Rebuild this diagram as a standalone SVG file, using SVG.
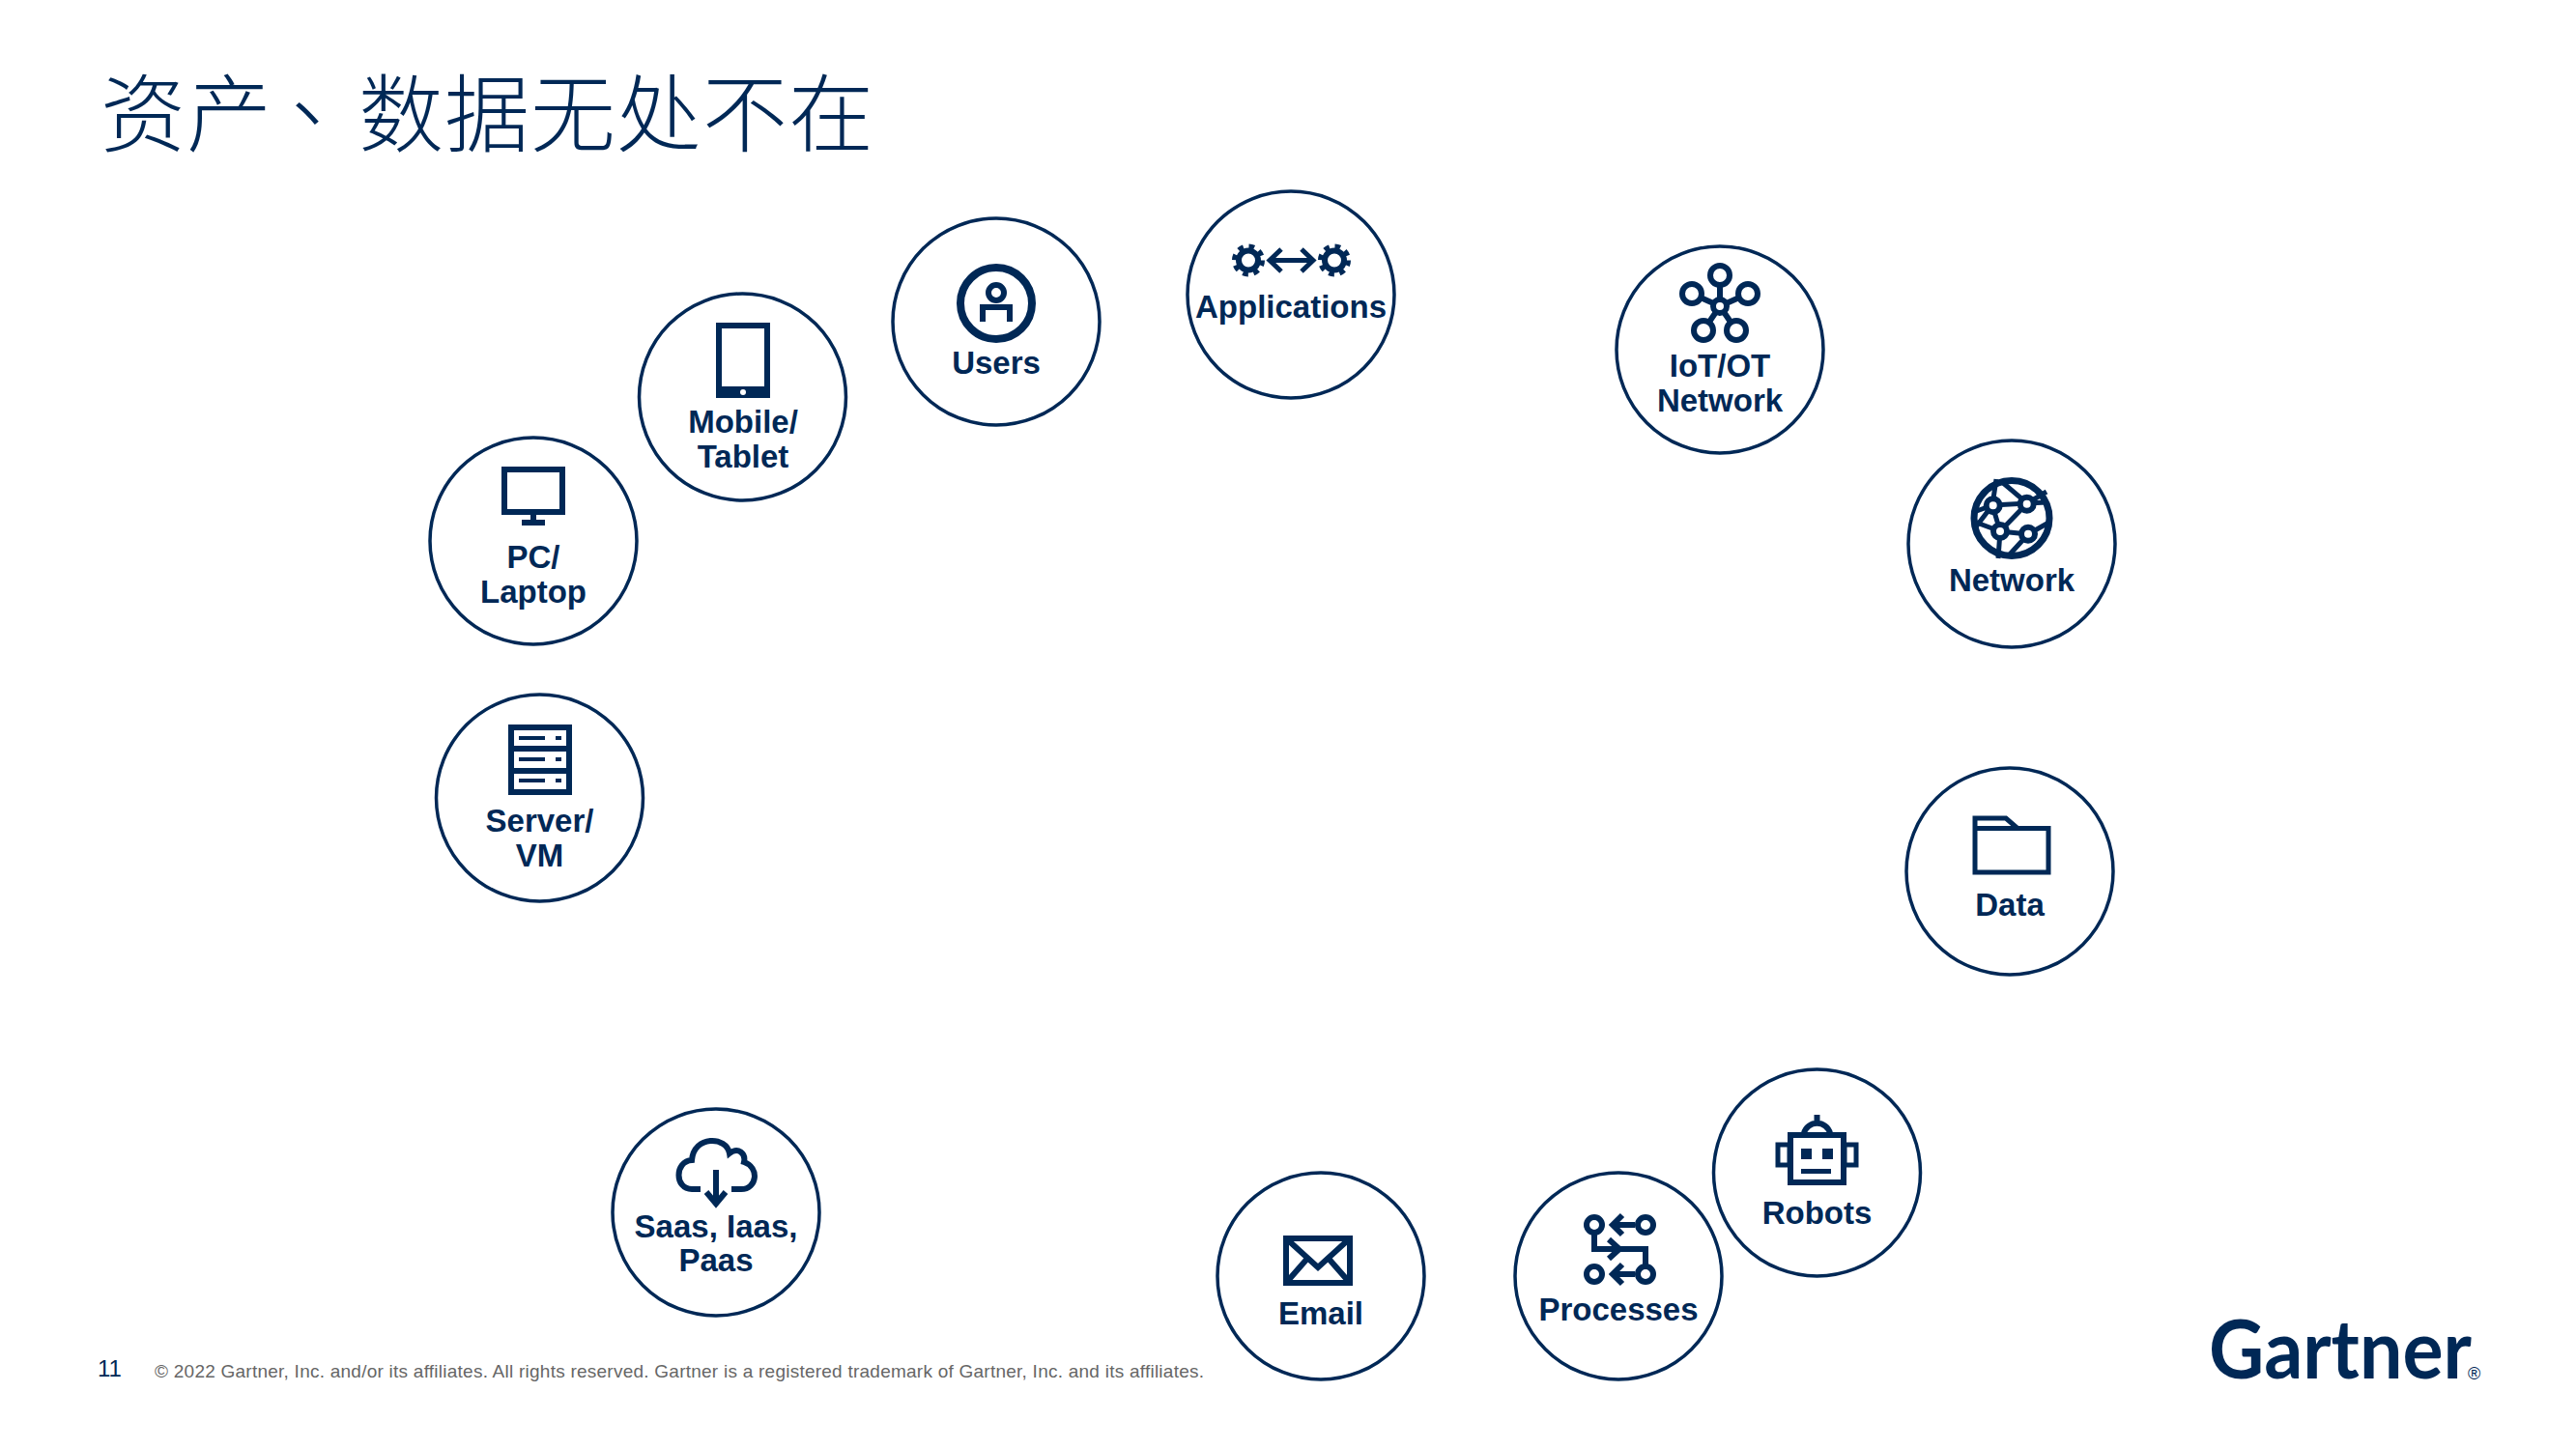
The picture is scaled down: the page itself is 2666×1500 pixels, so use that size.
<svg xmlns="http://www.w3.org/2000/svg" width="2666" height="1500" viewBox="0 0 2666 1500">
<style>
.ring{fill:#fff;stroke:#002856;stroke-width:3.5}
.lb{font-family:"Liberation Sans",Arial,sans-serif;font-weight:700;font-size:33px;fill:#002856;text-anchor:middle}
.s{fill:none;stroke:#002856;stroke-width:6}
.sw{fill:#fff;stroke:#002856;stroke-width:6}
.f{fill:#002856}
.t{font-family:"Noto Sans CJK SC","Noto Sans CJK TC",sans-serif;font-weight:300;font-size:88px;fill:#002856;letter-spacing:1px}
.foot{font-family:"Liberation Sans",Arial,sans-serif;fill:#666;font-size:19px}
</style>
<defs>
<g id="gear"><circle r="10" class="s"/><circle r="14.5" fill="none" stroke="#002856" stroke-width="5" stroke-dasharray="5.7 5.7"/></g>
</defs>
<rect width="2666" height="1500" fill="#fff"/>
<text id="title" class="t" x="104" y="150">资产<tspan font-family="Noto Sans CJK TC" dx="-8">、</tspan><tspan dx="8">数据无处不在</tspan></text>
<g id="connectors"/>
<g id="users"><circle class="ring" cx="1031" cy="333" r="107"/><circle class="s" style="stroke-width:8" cx="1031" cy="314" r="37"/><circle class="s" cx="1031" cy="303" r="8"/><path class="s" d="M1017 333V318H1045V333"/><text class="lb" x="1031" y="387">Users</text></g>
<g id="mobile"><circle class="ring" cx="768.500" cy="411" r="107"/><rect class="s" x="744" y="337" width="50" height="72"/><rect class="f" x="741" y="400" width="56" height="12"/><circle cx="769" cy="406" r="3" fill="#fff"/><text class="lb" x="769" y="448">Mobile/</text><text class="lb" x="769" y="484">Tablet</text></g>
<g id="pc"><circle class="ring" cx="552" cy="560" r="107"/><rect class="s" x="522" y="486" width="60" height="44"/><path class="s" d="M552 530V541M540 541H564"/><text class="lb" x="552" y="588">PC/</text><text class="lb" x="552" y="624">Laptop</text></g>
<g id="server"><circle class="ring" cx="558.500" cy="826" r="107"/><rect class="s" x="529" y="753" width="60" height="67"/><path class="s" d="M529 775H589M529 798H589"/><path class="s" style="stroke-width:4" d="M537 764H564M575 764H581M537 786H564M575 786H581M537 808H564M575 808H581"/><text class="lb" x="558.500" y="861">Server/</text><text class="lb" x="558.500" y="897">VM</text></g>
<g id="applications"><circle class="ring" cx="1336" cy="305" r="107"/><use href="#gear" x="1292" y="269.500"/><use href="#gear" x="1381" y="269.500"/><path class="s" style="stroke-width:5" d="M1316 269.500H1357M1326 258L1314 269.500L1326 281M1347 258L1359 269.500L1347 281"/><text class="lb" x="1336" y="329">Applications</text></g>
<g id="iot"><circle class="ring" cx="1780" cy="362" r="107"/><path class="s" d="M1780 285V317M1751 304L1780 317L1809 304M1763 342L1780 317L1797 342"/><circle class="sw" cx="1780" cy="285" r="10"/><circle class="sw" cx="1751" cy="304" r="10"/><circle class="sw" cx="1809" cy="304" r="10"/><circle class="sw" cx="1763" cy="342" r="10"/><circle class="sw" cx="1797" cy="342" r="10"/><circle class="sw" cx="1780" cy="317" r="7"/><text class="lb" x="1780" y="390">IoT/OT</text><text class="lb" x="1780" y="426">Network</text></g>
<g id="network"><circle class="ring" cx="2082" cy="563" r="107"/><circle class="s" style="stroke-width:7" cx="2082" cy="536.500" r="39"/><path class="s" style="stroke-width:5" d="M2062 523L2098 521L2070 550L2099 553L2070 550L2062 523M2062 523L2066 496M2098 521L2072 499M2098 521L2118 520M2098 521L2118 509M2062 523L2043 548M2043 530L2062 523M2070 550L2043 540M2070 550L2068 578M2099 553L2122 540M2099 553L2078 576"/><circle class="sw" cx="2062.700" cy="523.300" r="7"/><circle class="sw" cx="2097.700" cy="521.700" r="7"/><circle class="sw" cx="2070" cy="550" r="7"/><circle class="sw" cx="2099" cy="552.700" r="7"/><text class="lb" x="2082" y="611.700">Network</text></g>
<g id="data"><circle class="ring" cx="2080" cy="902" r="107"/><path class="s" style="stroke-width:5" d="M2044 903V847H2076L2088 857.500H2120V903ZM2044 857.500H2088"/><text class="lb" x="2080" y="948">Data</text></g>
<g id="robots"><circle class="ring" cx="1880.500" cy="1214" r="107"/><path class="s" d="M1880.500 1154V1165M1867 1173A14 14 0 0 1 1894 1173"/><rect class="s" x="1853" y="1175" width="55" height="49"/><rect class="s" style="stroke-width:5" x="1840" y="1185" width="12" height="21"/><rect class="s" style="stroke-width:5" x="1909" y="1185" width="12" height="21"/><rect class="f" x="1864" y="1189" width="11" height="11"/><rect class="f" x="1886" y="1189" width="11" height="11"/><rect class="f" x="1864" y="1210" width="31" height="5"/><text class="lb" x="1880.500" y="1267">Robots</text></g>
<g id="processes"><circle class="ring" cx="1675" cy="1321" r="107"/><path class="s" d="M1650 1278V1293H1703V1309M1669 1268H1692M1669 1319H1692M1679 1258L1669 1268L1679 1278M1679 1309L1669 1319L1679 1329M1665 1283L1676 1293L1665 1303"/><circle class="sw" cx="1650" cy="1268" r="8"/><circle class="sw" cx="1703" cy="1268" r="8"/><circle class="sw" cx="1650" cy="1319" r="8"/><circle class="sw" cx="1703" cy="1319" r="8"/><text class="lb" x="1675" y="1367">Processes</text></g>
<g id="email"><circle class="ring" cx="1367" cy="1321" r="107"/><rect class="s" x="1331" y="1282" width="66" height="46"/><path class="s" d="M1331 1282L1364 1312L1397 1282M1331 1328L1352 1304M1397 1328L1376 1304"/><text class="lb" x="1367" y="1371">Email</text></g>
<g id="saas"><circle class="ring" cx="741" cy="1255" r="107"/><path class="s" d="M725 1231H716C698 1231 698 1202 716 1201C718 1175 752 1176 755 1194C764 1187 772 1194 770 1203C786 1208 784 1231 767 1231H757"/><path class="s" d="M741 1211V1246M731 1234L741 1246L751 1234"/><text class="lb" x="741" y="1280.500">Saas, Iaas,</text><text class="lb" x="741" y="1316">Paas</text></g>
<text id="page" x="101" y="1425" font-family="Liberation Sans,Arial,sans-serif" font-size="24" fill="#002856">11</text>
<text id="copyright" class="foot" x="160" y="1426" textLength="1086" lengthAdjust="spacing">© 2022 Gartner, Inc. and/or its affiliates. All rights reserved. Gartner is a registered trademark of Gartner, Inc. and its affiliates.</text>
<g id="logo"><text x="2286" y="1427" font-family="Lato,sans-serif" font-weight="700" font-size="84" fill="#002856" textLength="272" lengthAdjust="spacingAndGlyphs">Gartner</text><text x="2554" y="1428" font-family="Liberation Sans,sans-serif" font-size="18" fill="#002856">®</text></g>
</svg>
